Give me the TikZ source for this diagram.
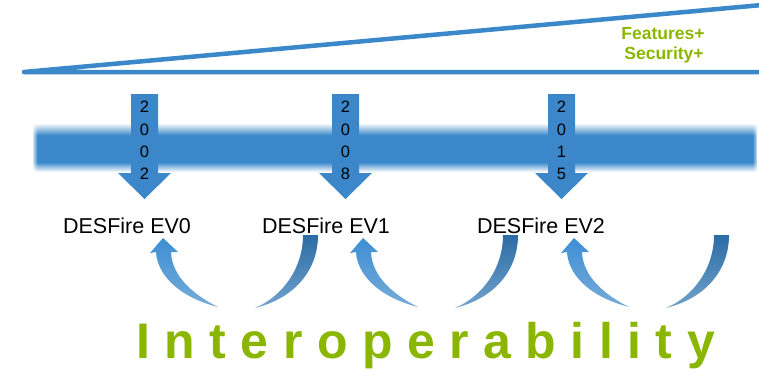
\documentclass[tikz,border=0pt]{standalone}
\usepackage{fontspec}
\setmainfont{Liberation Sans}
\usetikzlibrary{fadings}
\definecolor{bandblue}{RGB}{58,136,202}
\definecolor{arrblue}{RGB}{59,135,201}
\definecolor{darkblue}{RGB}{44,108,164}
\definecolor{lightblue}{RGB}{62,143,212}
\definecolor{olive}{RGB}{138,182,0}
\pgfdeclareverticalshading{bandsh}{100bp}{color(0bp)=(white); color(25bp)=(white); color(35bp)=(bandblue); color(62.5bp)=(bandblue); color(75bp)=(white); color(100bp)=(white)}
\pgfdeclarehorizontalshading{hedge}{100bp}{color(0bp)=(pgftransparent!100); color(25bp)=(pgftransparent!100); color(25.4bp)=(pgftransparent!0); color(74.6bp)=(pgftransparent!0); color(75bp)=(pgftransparent!100); color(100bp)=(pgftransparent!100)}
\pgfdeclarefading{edgefade}{\pgfuseshading{hedge}}
\tikzset{
  topline/.style={draw=bandblue, line width=4.5pt, line cap=round, line join=round},
  yeartxt/.style={font=\fontsize{16.5}{18}\selectfont, inner sep=0pt},
  label/.style={font=\fontsize{21.5}{24}\selectfont, inner sep=0pt},
  greentxt/.style={font=\fontsize{17.5}{20}\selectfont\bfseries, text=olive, inner sep=0pt},
  uparrow/.style={top color=lightblue, bottom color=arrblue!70!white, draw=none},
  crescent/.style={top color=darkblue, bottom color=darkblue!60!lightblue!70!white, draw=none}
}
\begin{document}
\begin{tikzpicture}[x=1pt,y=-1pt]
\useasboundingbox (0,0) rectangle (759,370);
% top wedge
\coordinate (wl) at (24,72);
\coordinate (wr) at (762,72);
\coordinate (wt) at (762,5);
\draw[topline] (wr) -- (wl) -- (wt);
\node[greentxt] (feat) at (663,34) {Features+};
\node[greentxt] (sec) at (664,55) {Security+};
% blurred band
\path[shade, shading=bandsh, path fading=edgefade, fit fading=true] (33,123) rectangle (757,172);
% year arrows
\foreach \cx/\a/\b/\c/\d/\nm in {144.5/2/0/0/2/y0, 345.5/2/0/0/8/y1, 561.5/2/0/1/5/y2}{
  \fill[arrblue] (\cx-13.5,94) -- (\cx+13.5,94) -- (\cx+13.5,173) -- (\cx+26.5,173)
     -- (\cx,199) -- (\cx-26.5,173) -- (\cx-13.5,173) -- cycle;
  \node[yeartxt] (\nm a) at (\cx,107) {\a};
  \node[yeartxt] (\nm b) at (\cx,130) {\b};
  \node[yeartxt] (\nm c) at (\cx,152) {\c};
  \node[yeartxt] (\nm d) at (\cx,174) {\d};
}
% labels
\node[label] (ev0) at (127,226) {DESFire EV0};
\node[label] (ev1) at (326,226) {DESFire EV1};
\node[label] (ev2) at (541,226) {DESFire EV2};
% curved arrows
\foreach \dx in {0,200,411}{
  \begin{scope}[xshift=\dx]
  \path[uparrow] (150,253) -- (163,238) -- (178,252) -- (171,252)
     .. controls (172,278) and (196,296) .. (218,307)
     .. controls (175,296) and (157,272) .. (156,252) -- cycle;
  \path[crescent] (303,235) -- (318,235)
     .. controls (318,270) and (295,298) .. (255,308)
     .. controls (283,296) and (303,268) .. (303,235) -- cycle;
  \end{scope}
}
% bottom text
\node[anchor=base west, inner sep=0pt, text=olive,
      font=\fontsize{50}{55}\selectfont\bfseries\addfontfeature{LetterSpace=29}] (interop) at (136,358) {Interoperability};
\end{tikzpicture}
\end{document}
